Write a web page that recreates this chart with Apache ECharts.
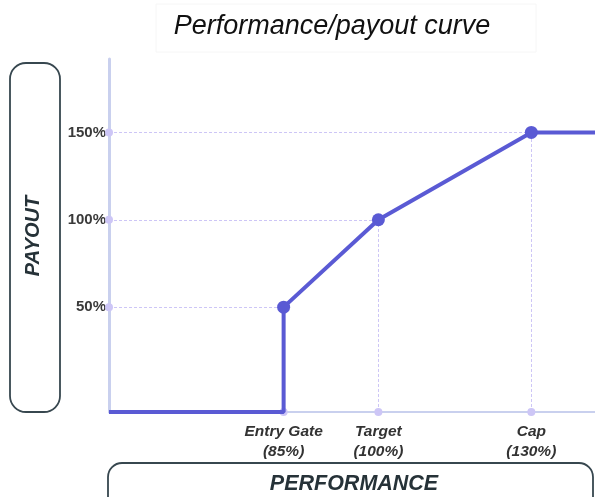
<!DOCTYPE html>
<html>
<head>
<meta charset="utf-8">
<script src="https://cdn.jsdelivr.net/npm/echarts@6/dist/echarts.min.js"></script>
<style>
  html, body { margin: 0; padding: 0; background: #ffffff; }
  #chart { width: 595px; height: 497px; }
</style>
</head>
<body>
<div id="chart"></div>
<script>
// Performance thresholds (% of target) and their names
const perfLevels = [85, 100, 130];
const perfNames = ['Entry Gate', 'Target', 'Cap'];
// Payout (% of target award) earned at each threshold
const payoutLevels = [50, 100, 150];
// Payout tick labels on the vertical axis
const payoutTicks = [50, 100, 150];
// Axis extents: performance range shown and the payout floor
const perfMin = 63;
const perfMax = 145;
const payoutFloor = -10;
const payoutMax = 192;

const LINE = '#5a5ad4';
const GUIDE = '#cdc6f6';
const AXIS = '#c9d0ee';
const FONT = '"Liberation Sans", Arial, sans-serif';

// Curve: nothing below the entry gate, then linear between thresholds, flat above the cap
const curve = [
  { value: [perfMin, payoutFloor], symbol: 'none' },
  { value: [perfLevels[0], payoutFloor], symbol: 'none' }
];
perfLevels.forEach((p, i) => curve.push({ value: [p, payoutLevels[i]] }));
curve.push({ value: [perfMax, payoutLevels[payoutLevels.length - 1]], symbol: 'none' });

// Dashed guides from each threshold point back to both axes
const guides = [];
perfLevels.forEach((p, i) => {
  guides.push([{ coord: [perfMin, payoutLevels[i]] }, { coord: [p, payoutLevels[i]] }]);
  guides.push([{ coord: [p, payoutFloor] }, { coord: [p, payoutLevels[i]] }]);
});

const chart = echarts.init(document.getElementById('chart'), null, { renderer: 'canvas' });

chart.setOption({
  animation: false,
  backgroundColor: '#ffffff',
  grid: { left: 109, right: 0, top: 59, bottom: 85, containLabel: false },
  xAxis: {
    type: 'log',
    min: perfMin,
    max: perfMax,
    z: 0,
    axisLine: { show: true, onZero: false, lineStyle: { color: AXIS, width: 2 } },
    axisTick: { show: false },
    splitLine: { show: false },
    minorTick: { show: false },
    axisLabel: {
      show: true,
      customValues: perfLevels,
      margin: 10,
      fontFamily: FONT,
      fontSize: 15.5,
      fontWeight: 'bold',
      fontStyle: 'italic',
      color: '#333333',
      lineHeight: 20,
      formatter: (v) => {
        const i = perfLevels.findIndex(p => Math.abs(p - v) < 0.01);
        return i < 0 ? '' : perfNames[i] + '\n(' + perfLevels[i] + '%)';
      }
    }
  },
  yAxis: {
    type: 'value',
    min: payoutFloor,
    max: payoutMax,
    z: 0,
    axisLine: { show: true, onZero: false, lineStyle: { color: AXIS, width: 3 } },
    axisTick: { show: false },
    splitLine: { show: false },
    axisLabel: {
      customValues: payoutTicks,
      margin: 3,
      fontFamily: FONT,
      fontSize: 15,
      fontWeight: 'bold',
      color: '#3a3a3a',
      formatter: (v) => v + '%'
    }
  },
  series: [
    {
      type: 'line',
      data: [],
      z: 1,
      silent: true,
      markLine: {
        silent: true,
        z: 1,
        symbol: ['circle', 'none'],
        symbolSize: 8,
        label: { show: false },
        lineStyle: { color: GUIDE, type: [3, 2], width: 1 },
        itemStyle: { color: GUIDE },
        emphasis: { disabled: true },
        data: guides
      }
    },
    {
      type: 'line',
      z: 10,
      data: curve,
      symbol: 'circle',
      symbolSize: 13,
      showAllSymbol: true,
      lineStyle: { color: LINE, width: 4 },
      itemStyle: { color: LINE, borderColor: LINE, borderWidth: 0, opacity: 1 },
      emphasis: { disabled: true },
      clip: false
    }
  ],
  graphic: [
    {
      type: 'rect',
      shape: { x: 156, y: 4, width: 380, height: 48 },
      style: { fill: 'none', stroke: '#f6f6f6', lineWidth: 1 },
      silent: true
    },
    {
      type: 'text',
      x: 332, y: 26,
      style: {
        text: 'Performance/payout curve',
        font: 'italic 27px ' + FONT,
        fill: '#111111',
        textAlign: 'center',
        textVerticalAlign: 'middle'
      }
    },
    {
      type: 'rect',
      shape: { x: 10, y: 63, width: 50, height: 349, r: 16 },
      style: { fill: 'none', stroke: '#37474f', lineWidth: 1.8 },
      silent: true
    },
    {
      type: 'text',
      x: 33, y: 236,
      rotation: Math.PI / 2,
      style: {
        text: 'PAYOUT',
        font: 'italic bold 20px ' + FONT,
        fill: '#263238',
        textAlign: 'center',
        textVerticalAlign: 'middle'
      }
    },
    {
      type: 'rect',
      shape: { x: 108, y: 463, width: 485, height: 60, r: 14 },
      style: { fill: 'none', stroke: '#37474f', lineWidth: 1.8 },
      silent: true
    },
    {
      type: 'text',
      x: 354, y: 484,
      style: {
        text: 'PERFORMANCE',
        font: 'italic bold 21.5px ' + FONT,
        fill: '#263238',
        textAlign: 'center',
        textVerticalAlign: 'middle'
      }
    }
  ]
});
</script>
</body>
</html>
